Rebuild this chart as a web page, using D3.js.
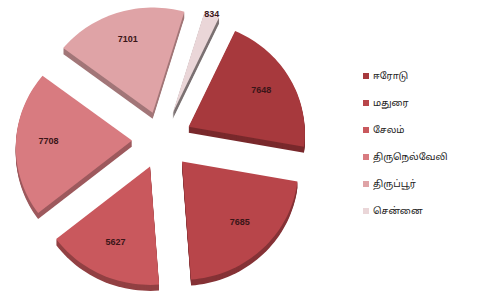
<!DOCTYPE html>
<html>
  <head>
    <meta charset="utf-8" />
    <title>D3 pie</title>
    <script src="https://cdn.jsdelivr.net/npm/d3@7"></script>
    <style>
      body { margin: 0; background: #fff; }
      svg { display: block; }
    </style>
  </head>
  <body>
    <script>
      // data
      const cities = ["ஈரோடு", "மதுரை", "சேலம்", "திருநெல்வேலி", "திருப்பூர்", "சென்னை"];
      const values = [7648, 7685, 5627, 7708, 7101, 834];
      const colors = ["#a7393d", "#b8454a", "#c9585d", "#d87b80", "#dfa3a6", "#ead6d8"];

      const w = 501;
      const h = 294;

      // pie geometry
      const cx = 162;
      const cy = 140;
      const R = 116;
      const k = 0.96; // vertical squash
      const p = 0.06; // a bit of perspective
      const explode = 30;
      const depth = 6;
      const start = (25 * Math.PI) / 180;

      const svg = d3
        .select("body")
        .append("svg")
        .attr("width", w)
        .attr("height", h);

      const pie = d3
        .pie()
        .sort(null)
        .startAngle(start)
        .endAngle(start + 2 * Math.PI);

      const arcs = pie(values).map((d, i) => {
        const mid = (d.startAngle + d.endAngle) / 2;
        d.i = i;
        d.mid = mid;
        d.ex = explode * Math.sin(mid);
        d.ey = -explode * Math.cos(mid) * k;
        return d;
      });

      function proj(d, a, r, dy) {
        const f = 1 / (1 + (p * r * Math.cos(a)) / R);
        return [
          cx + d.ex + r * Math.sin(a) * f,
          cy + d.ey - r * Math.cos(a) * k * f + dy
        ];
      }

      function slicePath(d, dy) {
        const n = Math.max(2, Math.ceil(((d.endAngle - d.startAngle) * 180) / Math.PI / 2));
        const pts = [proj(d, 0, 0, dy)];
        d3.range(n + 1).forEach(j => {
          const a = d.startAngle + ((d.endAngle - d.startAngle) * j) / n;
          pts.push(proj(d, a, R, dy));
        });
        return d3.line()(pts) + "Z";
      }

      const g = svg.append("g");

      // sides: stacked copies, darker
      const layers = d3.range(depth, 0, -1);
      arcs.forEach(d => {
        g.selectAll(null)
          .data(layers)
          .enter()
          .append("path")
          .attr("d", l => slicePath(d, l))
          .attr("fill", d3.color(colors[d.i]).darker(d.i === 5 ? 1.8 : 0.9));
      });

      // tops
      g.selectAll("path.top")
        .data(arcs)
        .enter()
        .append("path")
        .attr("class", "top")
        .attr("d", d => slicePath(d, 0))
        .attr("fill", d => colors[d.i]);

      // value labels
      const labelR = d => (d.i === 5 ? R * 1.0 : R * 0.72);
      svg
        .selectAll("text.val")
        .data(arcs)
        .enter()
        .append("text")
        .attr("class", "val")
        .attr("x", d => proj(d, d.mid, labelR(d), 0)[0])
        .attr("y", d => proj(d, d.mid, labelR(d), 0)[1])
        .attr("text-anchor", "middle")
        .attr("dominant-baseline", "middle")
        .attr("font-family", "Liberation Sans, Arial, sans-serif")
        .attr("font-size", 9)
        .attr("font-weight", "bold")
        .attr("fill", "#3a1518")
        .text(d => d.data);

      // legend
      const legend = svg
        .selectAll("g.leg")
        .data(cities)
        .enter()
        .append("g")
        .attr("class", "leg")
        .attr("transform", (d, i) => "translate(363," + (76 + i * 27) + ")");

      legend
        .append("rect")
        .attr("x", 0)
        .attr("y", -3)
        .attr("width", 6)
        .attr("height", 6)
        .attr("fill", (d, i) => colors[i]);

      legend
        .append("text")
        .attr("x", 10)
        .attr("y", 0)
        .attr("dominant-baseline", "middle")
        .attr("font-family", "Noto Sans Tamil, Lohit Tamil, Noto Sans, sans-serif")
        .attr("font-size", 9.5)
        .attr("fill", "#222")
        .text(d => d);
    </script>
  </body>
</html>
